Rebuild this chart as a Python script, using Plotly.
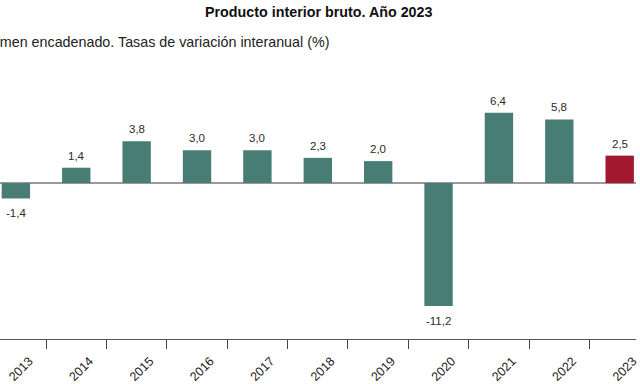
import plotly.graph_objects as go

years = [2013, 2014, 2015, 2016, 2017, 2018, 2019, 2020, 2021, 2022, 2023]
values = [-1.4, 1.4, 3.8, 3.0, 3.0, 2.3, 2.0, -11.2, 6.4, 5.8, 2.5]
labels = [f"{v:.1f}".replace(".", ",") for v in values]
year_labels = [str(y) for y in years]

teal = "#487D75"
red = "#A2192F"
colors = [red if y == 2023 else teal for y in years]

font_family = "Liberation Sans, Arial, sans-serif"

fig = go.Figure()
fig.add_trace(go.Bar(
    x=years, y=values, width=0.47,
    marker=dict(color=colors, line=dict(width=0)),
    hoverinfo="skip",
))
# invisible trace to carry second x axis (tick labels)
fig.add_trace(go.Scatter(x=[years[0]], y=[0], xaxis="x2", mode="markers",
                         marker=dict(opacity=0), hoverinfo="skip", showlegend=False))

annotations = []
for yr, v, lab in zip(years, values, labels):
    annotations.append(dict(
        x=yr, y=v, xref="x", yref="y", text=lab, showarrow=False,
        yanchor="middle", xanchor="center",
        yshift=12 if v >= 0 else -15,
        font=dict(family=font_family, size=11.5, color="#2a2a2a"),
    ))

annotations += [
    dict(text="<b>Producto interior bruto. Año 2023</b>", xref="paper", yref="paper",
         x=320 / 640, y=1 + (70 - 11) / 272, xanchor="center", yanchor="middle",
         showarrow=False, font=dict(family=font_family, size=14.3, color="#111111")),
    dict(text="Volumen encadenado. Tasas de variación interanual (%)", xref="paper", yref="paper",
         x=333 / 640, y=1 + (70 - 42) / 272, xanchor="right", yanchor="middle",
         showarrow=False, font=dict(family=font_family, size=14.3, color="#222222")),
]

xr = [2012.737, 2023.27]
fig.update_layout(
    width=640, height=384,
    margin=dict(l=0, r=0, t=70, b=42),
    paper_bgcolor="white", plot_bgcolor="white",
    showlegend=False,
    bargap=0.5,
    font=dict(family=font_family, color="#222222"),
    xaxis=dict(
        range=xr, showgrid=False, zeroline=False,
        showline=True, linecolor="#555555", linewidth=1.2,
        tickvals=[y + 0.5 for y in years], ticktext=[""] * len(years),
        ticks="outside", ticklen=9, tickcolor="#444444", tickwidth=1.2,
    ),
    xaxis2=dict(
        range=xr, overlaying="x", side="bottom", anchor="y",
        showgrid=False, zeroline=False, showline=False,
        tickvals=[y + 0.22 for y in years], ticktext=year_labels,
        ticks="outside", ticklen=9, tickcolor="rgba(0,0,0,0)",
        tickangle=-45, ticklabeloverflow="allow",
        tickfont=dict(family=font_family, size=12.5, color="#222222"),
    ),
    yaxis=dict(
        range=[-14.2, 10.3], showgrid=False, showticklabels=False,
        zeroline=True, zerolinecolor="#9a9a9a", zerolinewidth=2,
        showline=False, ticks="",
    ),
    annotations=annotations,
)

fig.write_html(
    "out.html", config={"displayModeBar": False},
    post_script=("document.body.style.margin='0';"
                 "document.body.style.overflow='hidden';"
                 "document.documentElement.style.overflow='hidden';"),
)
